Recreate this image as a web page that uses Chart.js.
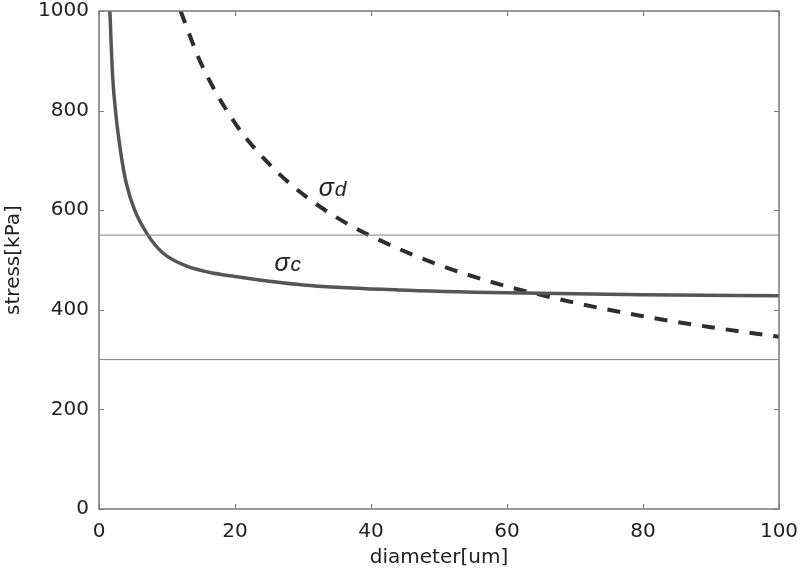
<!DOCTYPE html>
<html>
<head>
<meta charset="utf-8">
<script src="https://cdn.jsdelivr.net/npm/chart.js@4/dist/chart.umd.min.js"></script>
<style>
  html, body { margin: 0; padding: 0; background: #fff; }
  #wrap { width: 800px; height: 574px; }
</style>
</head>
<body>
<div id="wrap"><canvas id="c" width="800" height="574"></canvas></div>
<script>
// ---- data ----
const diameterC = [1.6, 2.0, 2.5, 3.0, 3.5, 4.0, 5.25, 7.2, 9.4, 13, 16, 20, 30, 44, 60, 80, 100];
const stressC   = [1000, 870, 790, 735, 690, 655, 600, 550, 514, 487, 476, 467, 450, 440, 434, 430, 428];

const diameterD = [12, 15, 20, 25, 30, 35, 40, 50, 60, 65, 70, 80, 90, 100];
const stressD   = [1000, 895, 775, 693, 632, 585, 548, 490, 447, 430, 414, 387, 365, 346];

const limitLevels = [550, 300];
const xRange = [0, 100];
const yRange = [0, 1000];
const xStep = 20, yStep = 200;

const annoSymbols = ['σ', 'σ'];
const annoSubs    = ['d', 'c'];
const annoX       = [32.3, 25.8];
const annoY       = [628, 478];

const xTitle = 'diameter[um]';
const yTitle = 'stress[kPa]';

const toPts = (xs, ys) => xs.map((v, i) => ({ x: v, y: ys[i] }));

const datasets = [];
limitLevels.forEach(l => datasets.push({
  data: toPts(xRange, [l, l]),
  borderColor: '#808080', borderWidth: 1, pointRadius: 0, tension: 0
}));
datasets.push({
  data: toPts(diameterC, stressC),
  borderColor: '#555555', borderWidth: 3.5, pointRadius: 0,
  cubicInterpolationMode: 'monotone'
});
datasets.push({
  data: toPts(diameterD, stressD),
  borderColor: '#2e2e2e', borderWidth: 4, borderDash: [13, 11], pointRadius: 0,
  cubicInterpolationMode: 'monotone', borderCapStyle: 'butt'
});

const FONT = '"DejaVu Sans", sans-serif';
const ANNO_FONT = '"Liberation Sans", Arial, sans-serif';

const boxTicks = {
  id: 'boxTicks',
  afterDraw(chart) {
    const { ctx, chartArea: a, scales: { x, y } } = chart;
    const L = 5;
    ctx.save();
    ctx.strokeStyle = '#7a7a7a';
    ctx.lineWidth = 1.5;
    ctx.strokeRect(a.left, a.top, a.right - a.left, a.bottom - a.top);
    ctx.lineWidth = 1;
    ctx.beginPath();
    x.ticks.forEach(t => {
      const p = Math.round(x.getPixelForValue(t.value)) + 0.5;
      ctx.moveTo(p, a.bottom); ctx.lineTo(p, a.bottom - L);
      ctx.moveTo(p, a.top); ctx.lineTo(p, a.top + L);
    });
    y.ticks.forEach(t => {
      const p = Math.round(y.getPixelForValue(t.value)) + 0.5;
      ctx.moveTo(a.left, p); ctx.lineTo(a.left + L, p);
      ctx.moveTo(a.right, p); ctx.lineTo(a.right - L, p);
    });
    ctx.stroke();
    // annotations
    ctx.fillStyle = '#222';
    ctx.textBaseline = 'alphabetic';
    ctx.textAlign = 'left';
    annoSymbols.forEach((s, i) => {
      const px = x.getPixelForValue(annoX[i]);
      const py = y.getPixelForValue(annoY[i]);
      ctx.font = 'italic 25px ' + ANNO_FONT;
      ctx.fillText(s, px, py);
      const w = ctx.measureText(s).width;
      ctx.font = 'italic 21px ' + ANNO_FONT;
      ctx.fillText(annoSubs[i], px + w + 1, py);
    });
    ctx.restore();
  }
};

new Chart(document.getElementById('c'), {
  type: 'line',
  data: { datasets },
  plugins: [boxTicks],
  options: {
    responsive: false,
    animation: false,
    events: [],
    layout: { padding: { top: 11, right: 21, left: 0, bottom: 0 } },
    plugins: { legend: { display: false }, tooltip: { enabled: false } },
    scales: {
      x: {
        type: 'linear', min: xRange[0], max: xRange[1],
        ticks: { stepSize: xStep, color: '#222', font: { family: FONT, size: 20 }, padding: 11, maxRotation: 0,
                 callback: v => String(v) },
        grid: { display: false, drawTicks: false },
        border: { display: false },
        title: { display: true, text: xTitle, color: '#222', font: { family: FONT, size: 20 }, padding: { top: 0, bottom: 4 } },
        afterFit(s) { s.height = 65; s.paddingLeft = 0; s.paddingRight = 0; }
      },
      y: {
        type: 'linear', min: yRange[0], max: yRange[1],
        ticks: { stepSize: yStep, color: '#222', font: { family: FONT, size: 20 }, padding: 10,
                 callback: v => String(v) },
        grid: { display: false, drawTicks: false },
        border: { display: false },
        title: { display: true, text: yTitle, color: '#222', font: { family: FONT, size: 20 }, padding: { top: 2, bottom: 0 } },
        afterFit(s) { s.width = 99; s.paddingTop = 0; s.paddingBottom = 0; }
      }
    }
  }
});
</script>
</body>
</html>
